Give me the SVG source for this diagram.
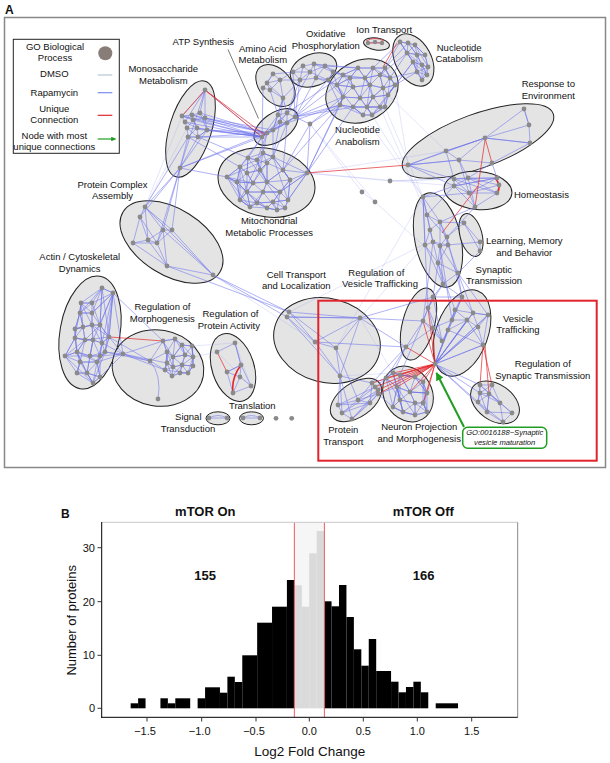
<svg xmlns="http://www.w3.org/2000/svg" width="610" height="763" viewBox="0 0 610 763">
<style>
text{font-family:"Liberation Sans",Arial,sans-serif;fill:#111}
.lb{font-size:9.5px;text-anchor:middle}
.hl{fill:#e4e4e4;stroke:#222;stroke-width:1}
.e{stroke:#6a70ec;stroke-width:0.8;opacity:0.68;fill:none}
.d{stroke:#6a70ec;stroke-width:0.9;opacity:0.6;fill:none}
.f{stroke:#9aa0f0;stroke-width:0.6;opacity:0.45;fill:none}
.r{stroke:#e3262b;stroke-width:0.7;fill:none}
.n circle{fill:#8a8a8a}
.tk{font-size:11px;fill:#4d4d4d}
.bar{fill:#000}
.gbar{fill:#dadada}
</style>
<defs>
<marker id="ga" viewBox="0 0 10 10" refX="9" refY="5" markerWidth="4" markerHeight="4" orient="auto-start-reverse"><path d="M0,0 L10,5 L0,10 z" fill="#1f9e22"/></marker>
</defs>
<rect width="610" height="763" fill="#fff"/>
<text x="5" y="13.5" style="font-size:12px;font-weight:bold">A</text>
<rect x="4.5" y="17.5" width="601" height="450" fill="none" stroke="#888" stroke-width="1.5"/>

<!-- clusters -->
<g id="monosaccharide"><ellipse class="hl" cx="190.5" cy="129" rx="21" ry="50" transform="rotate(17 190.5 129)"/><text class="lb" x="163.3" y="72">Monosaccharide</text><text class="lb" x="163.3" y="83.5">Metabolism</text></g>
<g id="atp-synthesis"><ellipse class="hl" cx="276" cy="127" rx="25" ry="14" transform="rotate(-35 276 127)"/><text class="lb" x="203.3" y="45.3">ATP Synthesis</text><line x1="228" y1="49.5" x2="258.5" y2="118.5" stroke="#555" stroke-width="0.8"/></g>
<g id="amino-acid"><ellipse class="hl" cx="275.5" cy="85.5" rx="24" ry="16" transform="rotate(50 275.5 85.5)"/><text class="lb" x="262.8" y="51.7">Amino Acid</text><text class="lb" x="262.8" y="63.3">Metabolism</text></g>
<g id="oxidative-phosphorylation"><ellipse class="hl" cx="313.5" cy="70" rx="24" ry="16" transform="rotate(-20 313.5 70)"/><text class="lb" x="325.8" y="36.7">Oxidative</text><text class="lb" x="325.8" y="48.7">Phosphorylation</text></g>
<g id="ion-transport"><ellipse class="hl" cx="376.5" cy="44" rx="13" ry="6" transform="rotate(8 376.5 44)"/><text class="lb" x="384.2" y="33.3">Ion Transport</text></g>
<g id="nucleotide-catabolism"><ellipse class="hl" cx="413.3" cy="60" rx="18" ry="28" transform="rotate(-28 413.3 60)"/><text class="lb" x="459.2" y="50.7">Nucleotide</text><text class="lb" x="459.2" y="62.3">Catabolism</text></g>
<g id="nucleotide-anabolism"><ellipse class="hl" cx="362" cy="91" rx="38" ry="30" transform="rotate(-30 362 91)"/><text class="lb" x="357.5" y="132.7">Nucleotide</text><text class="lb" x="357.5" y="144.7">Anabolism</text></g>
<g id="mitochondrial"><ellipse class="hl" cx="266.5" cy="182.5" rx="49" ry="34" transform="rotate(12 266.5 182.5)"/><text class="lb" x="269.2" y="224">Mitochondrial</text><text class="lb" x="269.2" y="236">Metabolic Processes</text></g>
<g id="response-environment"><ellipse class="hl" cx="478" cy="141" rx="80" ry="27" transform="rotate(-20 478 141)"/><text class="lb" x="548.3" y="86.7">Response to</text><text class="lb" x="548.3" y="98.7">Environment</text></g>
<g id="homeostasis"><ellipse class="hl" cx="478" cy="190.5" rx="34" ry="19" transform="rotate(5 478 190.5)"/><text x="514" y="198" style="font-size:9.5px">Homeostasis</text></g>
<g id="synaptic-transmission"><ellipse class="hl" cx="438" cy="240" rx="23" ry="48" transform="rotate(-12 438 240)"/><text class="lb" x="493.8" y="272.7">Synaptic</text><text class="lb" x="494" y="284.3">Transmission</text></g>
<g id="learning-memory"><ellipse class="hl" cx="471" cy="235" rx="11" ry="22" transform="rotate(-15 471 235)"/><text class="lb" x="524.3" y="244">Learning, Memory</text><text class="lb" x="524.3" y="255.7">and Behavior</text></g>
<g id="cell-transport"><ellipse class="hl" cx="327" cy="340.5" rx="54" ry="42" transform="rotate(15 327 340.5)"/><text class="lb" x="296.3" y="277.7">Cell Transport</text><text class="lb" x="296.3" y="289.3">and Localization</text></g>
<g id="reg-vesicle-trafficking"><ellipse class="hl" cx="418.5" cy="324" rx="16" ry="37" transform="rotate(15 418.5 324)"/><text class="lb" x="376.3" y="275.7">Regulation of</text><text class="lb" x="380" y="287.3">Vesicle Trafficking</text></g>
<g id="vesicle-trafficking"><ellipse class="hl" cx="462" cy="333" rx="26" ry="45" transform="rotate(20 462 333)"/><text class="lb" x="518" y="321.7">Vesicle</text><text class="lb" x="518" y="333.3">Trafficking</text></g>
<g id="reg-synaptic-transmission"><ellipse class="hl" cx="495" cy="402.3" rx="27" ry="18" transform="rotate(35 495 402.3)"/><text class="lb" x="542.8" y="367.3">Regulation of</text><text class="lb" x="542.8" y="379">Synaptic Transmission</text></g>
<g id="neuron-projection"><ellipse class="hl" cx="408" cy="394" rx="24" ry="29" transform="rotate(-30 408 394)"/><text class="lb" x="419.2" y="430">Neuron Projection</text><text class="lb" x="419.2" y="441.7">and Morphogenesis</text></g>
<g id="protein-transport"><ellipse class="hl" cx="356" cy="400" rx="29" ry="17" transform="rotate(-35 356 400)"/><text class="lb" x="343.3" y="433.3">Protein</text><text class="lb" x="343.3" y="445">Transport</text></g>
<g id="protein-complex"><ellipse class="hl" cx="171.5" cy="242" rx="57" ry="33" transform="rotate(32 171.5 242)"/><text class="lb" x="112.5" y="187.7">Protein Complex</text><text class="lb" x="112.5" y="199.3">Assembly</text></g>
<g id="actin"><ellipse class="hl" cx="90" cy="332.5" rx="30" ry="57" transform="rotate(10 90 332.5)"/><text class="lb" x="79.7" y="260">Actin / Cytoskeletal</text><text class="lb" x="79.7" y="271.7">Dynamics</text></g>
<g id="reg-morphogenesis"><ellipse class="hl" cx="158" cy="368" rx="46" ry="38" transform="rotate(10 158 368)"/><text class="lb" x="162.5" y="310">Regulation of</text><text class="lb" x="162.3" y="321.7">Morphogenesis</text></g>
<g id="reg-protein-activity"><ellipse class="hl" cx="233" cy="367.5" rx="21" ry="35" transform="rotate(-18 233 367.5)"/><text class="lb" x="230.5" y="317.3">Regulation of</text><text class="lb" x="228.8" y="329.3">Protein Activity</text></g>
<g id="signal-transduction"><ellipse class="hl" cx="218" cy="418.3" rx="12" ry="6.5"/><text class="lb" x="188.3" y="420">Signal</text><text class="lb" x="188" y="432">Transduction</text></g>
<g id="translation"><ellipse class="hl" cx="251.5" cy="418.3" rx="12" ry="6.5"/><text class="lb" x="252.3" y="409">Translation</text></g>

<!-- connectors -->
<g id="connectors">
<path class="f" d="M310,124L362,192L375,202L423,245 M310,124L375,202 M307,173L390,181L454,179 M307,173L454,186 M390,181L468,178 M385,107L423,197 M380,107L427,215 M372,115L423,197 M360,318L425,245 M336,348L423,197 M289,312L423,245 M360,318L393,373 M340,376L393,373 M217,352L193,357 M235,343L192,346 M217,352L251,386 M235,343L251,386 M213,275L315,342 M182,116L145,207 M187,128L140,217 M388,95L446,151 M395,85L408,165 M307,173L446,151 M363,115L423,197"/>
<path class="e" d="M205,90 182,116 192,115 200,113 205,90 205,118 207,130 198,137 188,137 187,128 185,122 182,116 193,120 197,128 207,130 200,113 205,118 193,120 187,128 198,137 197,128 188,137 180,168 198,137 207,130 180,168 205,90 185,122 197,128 192,115"/>
<path class="e" d="M205,90L262,137 M182,116L262,137 M192,115L262,137 M200,113L267,133 M185,122L262,137 M193,120L262,137 M205,118L267,133 M187,128L262,137 M197,128L262,137 M207,130L262,137 M188,137L262,137 M198,137L267,133 M180,168L262,137 M180,168L267,133 M205,118L273,130 M207,130L267,133 M182,116L267,133 M192,115L267,133"/>
<path class="e" d="M262,137 278,115 287,113 295,117 287,123 280,122 273,130 267,133 262,137 280,122 287,113 287,123 278,115 273,130 295,117 267,133 287,123 262,137 287,113"/>
<path class="e" d="M273,74 267,83 280,80 273,74 263,88 270,90 283,98 280,80 270,90 267,83 283,98 M278,115L283,98 M287,113L283,98 M280,122L283,98 M278,115L270,90 M262,137L263,88 M273,130L283,98"/>
<path class="e" d="M293,72 303,66 314,64 325,66 333,72 328,80 316,78 300,80 293,72 310,72 314,64 316,78 325,66 310,72 300,80 303,66 310,72 328,80 333,72 314,64 M280,80L293,72 M273,74L293,72 M283,98L300,80 M280,80L300,80 M295,117L300,80 M287,113L300,80 M295,117L293,72 M295,117L316,78 M287,113L310,72 M295,117L328,80"/>
<path class="e" d="M368,43 375,42 382,43"/>
<path class="e" d="M400,42 408,43 415,45 425,55 417,55 407,53 400,42 413,62 422,65 428,67 425,55 415,45 417,55 422,65 427,75 422,80 417,72 413,62 407,53 408,43 417,55 417,72 428,67 422,80 422,65 407,53 415,45 428,67 427,75 413,62 422,80"/>
<path class="d" d="M400,42 407,53 413,62 417,72 422,80 M408,43 417,55 422,65 427,75 M415,45 425,55 428,67 M400,42 415,45 M407,53 425,55 M413,62 428,67 M417,72 427,75"/>
<path class="e" d="M358,68 373,68 385,68 390,78 380,75 365,78 350,78 343,75 358,68 365,78 370,85 353,87 337,85 343,75 353,87 360,98 343,97 337,85 343,97 340,105 353,107 360,98 373,97 370,85 383,88 395,85 390,78 383,88 388,95 373,97 367,107 353,107 363,115 372,115 380,107 385,107 388,95 395,85 385,68 380,75 383,88 373,97 380,107 367,107 360,98 353,87 350,78 358,68 370,85 373,68 380,75 370,85 367,107 372,115 385,107 383,88"/>
<path class="e" d="M343,75 365,78 373,97 363,115 340,105 343,97 350,78 337,85 353,107 367,107 380,107 388,95 390,78 373,68 365,78 360,98 372,115 395,85"/>
<path class="d" d="M343,75 358,68 373,68 385,68 390,78 380,75 365,78 350,78 337,85 353,87 370,85 383,88 395,85 388,95 373,97 360,98 343,97 340,105 353,107 367,107 380,107 385,107 372,115 363,115 353,107 M358,68 350,78 353,87 343,97 M373,68 365,78 370,85 360,98 353,107 363,115 M385,68 380,75 383,88 373,97 367,107 372,115 M390,78 395,85 388,95 385,107 M343,75 337,85 343,97 340,105"/>
<path class="e" d="M385,68L400,42 M390,78L407,53 M395,85L413,62 M390,78L417,72 M380,75L407,53 M385,68L408,43 M395,85L417,72 M388,95L413,62 M373,68L400,42 M333,72L343,75 M333,72L337,85 M325,66L343,75 M328,80L337,85 M328,80L343,97 M325,66L358,68 M314,64L358,68 M333,72L350,78 M328,80L340,105 M316,78L337,85 M295,117L337,85 M295,117L343,97 M287,123L340,105 M295,117L340,105 M287,113L343,75 M295,117L353,107"/>
<path class="e" d="M263,153 273,157 267,163 257,160 248,158 263,153 257,160 260,170 267,163 283,170 273,157 263,153 260,170 247,173 240,167 248,158 247,173 253,183 237,182 227,177 240,167 237,182 247,192 240,200 250,207 257,203 247,192 253,183 267,182 260,170 253,183 263,192 267,182 290,180 283,170 267,182 280,192 290,180 288,200 285,208 277,210 267,208 250,207 240,200 257,203 263,192 280,192 273,202 267,208 257,203 273,202 288,200 280,192 263,192 247,192 247,173 237,182 240,200 227,177 247,192 267,208 277,210 273,202 285,208"/>
<path class="e" d="M307,173 283,170 290,180 307,173 288,200 307,173 280,192 307,173 273,157 227,177 253,183 267,163 267,182 257,160 240,167 247,192 250,207 263,192 277,210 280,192 M227,177 250,207 M240,167 240,200 M263,153 240,200 M273,157 288,200 M248,158 285,208"/>
<path class="d" d="M248,158 257,160 263,153 273,157 267,163 260,170 247,173 240,167 227,177 237,182 253,183 267,182 283,170 290,180 280,192 263,192 247,192 240,200 250,207 257,203 273,202 288,200 285,208 277,210 267,208 257,203 M263,153 267,163 267,182 263,192 257,203 M248,158 247,173 253,183 247,192 250,207 M273,157 283,170 290,180 288,200 M257,160 260,170 267,182 280,192 273,202 267,208 M240,167 237,182 240,200 M227,177 237,182 247,192 257,203"/>
<path class="e" d="M262,137L263,153 M262,137L248,158 M267,133L263,153 M267,133L257,160 M273,130L273,157 M280,122L273,157 M287,123L273,157 M262,137L240,167 M287,123L283,170 M180,168L227,177 M188,137L240,167 M198,137L248,158 M307,173L343,97 M307,173L340,105 M307,173L353,107 M283,170L340,105 M310,124L340,105 M310,124L343,97 M310,124L295,117 M310,124L307,173 M310,124L283,170"/>
<path class="e" d="M524,109 529,125 530,143 485,138 529,125 524,109 485,138 446,151 408,165 459,160 446,151 485,138 530,143 492,163 459,160 408,165 485,138 459,160"/>
<path class="e" d="M454,179 468,178 497,178 499,185 497,193 469,193 454,186 454,179 469,193 497,178 454,186 468,178 497,193 475,207 469,193 499,185 468,178 475,207 454,186 497,178 454,179 497,193 M459,160L468,178 M459,160L469,193 M492,163L497,178 M446,151L454,179 M408,165L454,186 M408,165L454,179 M492,163L468,178"/>
<path class="e" d="M423,197 427,215 440,222 423,197 425,245 433,242 440,246 448,245 447,237 440,222 430,230 425,245 438,263 458,273 443,284 438,263 440,246 458,273 448,245 433,242 430,230 427,215 447,237 440,246 443,284 425,245 423,197 433,242 438,263 448,245 440,222 440,246 M475,207L440,222 M469,193L423,197 M454,186L423,197 M454,186L427,215 M475,207L447,237"/>
<path class="e" d="M464,223 480,242 480,251 464,223 M464,223L447,237 M480,242L448,245 M480,251L458,273 M464,223L440,222"/>
<path class="e" d="M433,297 423,321 433,328 442,341 433,297 428,308 423,321 406,347 433,328 428,308 442,341 423,321"/>
<path class="e" d="M462,297 455,310 467,320 478,327 488,315 473,313 462,297 452,320 448,330 467,320 473,313 455,310 452,320 467,320 483,345 478,327 473,313 488,315 483,345 448,330 435,364 455,310 435,364 467,320 435,364 478,327 435,364 483,345 435,364 473,313 435,364 488,315 435,364 462,297"/>
<path class="e" d="M438,263L433,297 M443,284L433,297 M443,284L462,297 M458,273L462,297 M438,263L455,310 M443,284L428,308 M425,245L428,308 M433,242L423,321 M458,273L488,315 M447,237L462,297 M440,246L452,320 M458,273L473,313 M433,297L462,297 M442,341L448,330 M433,328L452,320"/>
<path class="e" d="M480,385 492,385 489,394 480,393 480,385 478,402 487,412 503,422 512,413 500,403 489,394 487,412 480,393 500,403 503,422 478,402 480,393 492,385 500,403 480,385 512,413 487,412 489,394 478,402 M435,364L480,385 M435,364L478,402 M435,364L480,393 M435,364L487,412"/>
<path class="e" d="M393,373 400,375 415,377 423,382 427,393 410,392 397,387 386,378 393,373 397,387 400,400 393,407 403,412 415,415 427,412 423,403 415,403 400,400 410,392 415,377 400,375 397,387 393,407 386,378 400,400 403,412 415,403 410,392 427,393 423,403 427,412 415,403 415,415 403,412 393,407 400,400 400,375 410,392 423,382 423,403 415,415 397,387 403,412 393,373 415,377 427,393 427,412 423,382"/>
<path class="d" d="M386,378 393,373 400,375 415,377 423,382 427,393 410,392 397,387 400,400 415,403 423,403 427,412 415,415 403,412 393,407 M393,373 397,387 400,400 403,412 M400,375 410,392 415,403 415,415 M415,377 427,393 423,403 427,412 M386,378 397,387 393,407"/>
<path class="e" d="M372,383 375,387 378,390 378,394 370,403 358,400 338,405 342,413 352,419 370,403 372,383 358,400 342,413 378,390 352,419 378,394 358,400 375,387 338,405 370,403 342,413 M372,383L386,378 M378,390L386,378 M378,394L397,387 M375,387L393,373 M378,394L393,407"/>
<path class="e" d="M289,312 360,318 287,317 315,342 336,348 360,318 340,376 315,342 289,312 336,348 340,376 287,317 360,318 315,342 M340,376L338,405 M340,376L342,413 M340,376L372,383 M336,348L358,400 M340,376L352,419 M360,318L406,347 M360,318L423,321 M360,318L433,297 M315,342L406,347 M213,275L289,312 M213,275L287,317 M167,266L289,312 M406,347L393,373 M406,347L386,378 M406,347L372,383 M423,321L400,375"/>
<path class="e" d="M145,207 140,217 133,243 148,240 157,243 163,230 172,230 145,207 163,230 148,240 140,217 157,243 167,266 213,275 172,230 157,243 133,243 167,266 148,240 145,207 213,275 163,230 167,266 M180,168L145,207 M180,168L163,230 M180,168L172,230 M180,168L140,217 M188,137L145,207 M180,168L157,243"/>
<path class="e" d="M102,288 113,293 92,303 81,303 102,288 92,313 80,313 81,303 92,313 113,293 109,337 100,325 92,325 83,327 75,329 75,338 85,340 93,340 102,343 109,337 105,352 100,356 90,356 77,352 65,356 80,362 97,362 100,377 93,383 87,373 77,373 80,362 77,352 75,338 65,356 77,373 93,383 97,362 100,356 102,343 100,325 92,303 80,313 83,327 85,340 77,352 87,373 90,356 93,340 92,325 92,313 100,325 113,293"/>
<path class="e" d="M75,329 92,325 109,337 85,340 65,356 90,356 105,352 97,362 87,373 100,377 100,356 93,340 75,338 83,327 81,303 92,325 102,343 105,352 93,383 80,362 85,340 100,325 102,288 80,313 75,329 77,352 97,362 102,343 113,293 93,340 87,373 M65,356 93,383 M113,293 105,352 M102,288 109,337 M81,303 75,338"/>
<path class="d" d="M81,303 92,303 102,288 113,293 92,313 80,313 83,327 75,329 92,325 100,325 109,337 102,343 93,340 85,340 75,338 65,356 77,352 90,356 100,356 105,352 97,362 80,362 77,373 87,373 100,377 93,383 M81,303 80,313 75,329 75,338 77,352 80,362 77,373 M92,303 92,313 92,325 93,340 90,356 97,362 100,377 M102,288 100,325 102,343 100,356 M113,293 109,337 105,352 M83,327 85,340 77,352 87,373 93,383"/>
<path class="e" d="M163,341 175,339 182,345 192,346 193,357 185,355 173,357 167,352 163,341 173,357 182,345 185,355 192,346 193,366 182,365 173,367 167,363 167,352 173,367 165,370 172,376 180,373 188,373 193,366 193,357 182,365 180,373 173,367 173,357 167,363 172,376 182,365 185,355 175,339 167,352 165,370 188,373 193,357 182,345 173,357 182,365 188,373"/>
<path class="d" d="M163,341 175,339 182,345 192,346 193,357 185,355 173,357 167,352 167,363 173,367 182,365 193,366 188,373 180,373 172,376 165,370 167,363 M175,339 173,357 173,367 172,376 M182,345 185,355 182,365 180,373 M192,346 193,357 193,366 188,373 M163,341 167,352 167,363 165,370"/>
<path class="e" d="M123,354 150,361 167,352 M123,354 163,341 M123,354 167,363 M150,361 165,370 M150,361 163,341 M123,354 165,370 M150,361 Q162,375 158,399 M123,354L109,337 M123,354L105,352 M123,354L102,343 M123,354L100,356 M150,361L109,337 M123,354L100,377 M123,354L113,293 M150,361L105,352 M123,354L97,362 M163,341L113,293"/>
<path class="e" d="M217,352 235,343 241,365 227,372 233,393 251,386 240,377 227,372 241,365 251,386 M241,365 240,377 233,393 M235,343L241,365"/>
<path class="e" d="M209,418 Q218,413 227,418 M209,418L227,418 M243,418 Q251,413 260,418 M243,418L260,418"/>
<path class="r" d="M205,90L262,137 M205,90L265,135 M182,116L205,90 M366,41 Q375,36 384,41 M368,43L382,43 M383,67L397,43 M307,173L408,165 M485,140L475,207 M478,186L442,233 M485,138L492,163 M483,345L480,385 M483,345L492,385 M485,345L489,394 M435,364L393,373 M435,364L400,375 M435,364L415,377 M435,364L423,382 M435,364L427,393 M435,364L386,378 M435,364L410,392 M435,364L397,387 M435,364L423,403 M435,364L372,383 M435,364L375,387 M435,364L378,390 M435,364L378,394 M435,364L406,347 M435,364L423,321 M435,364L433,328 M435,364L428,308 M110,337L163,341 M217,352L227,372"/>
<path class="r" style="stroke-width:1.6" d="M495,178 Q502,186 497,194 M241,365 Q231,378 233,393"/>
</g>

<!-- node dots -->
<g class="n" id="dots">
<circle cx="205" cy="90" r="2.4"/><circle cx="182" cy="116" r="2.4"/><circle cx="192" cy="115" r="2.4"/><circle cx="200" cy="113" r="2.4"/><circle cx="185" cy="122" r="2.4"/><circle cx="193" cy="120" r="2.4"/><circle cx="205" cy="118" r="2.4"/><circle cx="187" cy="128" r="2.4"/><circle cx="197" cy="128" r="2.4"/><circle cx="207" cy="130" r="2.4"/><circle cx="188" cy="137" r="2.4"/><circle cx="198" cy="137" r="2.4"/><circle cx="180" cy="168" r="2.4"/>
<circle cx="262" cy="137" r="2.4"/><circle cx="278" cy="115" r="2.4"/><circle cx="287" cy="113" r="2.4"/><circle cx="295" cy="117" r="2.4"/><circle cx="280" cy="122" r="2.4"/><circle cx="287" cy="123" r="2.4"/><circle cx="273" cy="130" r="2.4"/><circle cx="267" cy="133" r="2.4"/>
<circle cx="273" cy="74" r="2.4"/><circle cx="267" cy="83" r="2.4"/><circle cx="280" cy="80" r="2.4"/><circle cx="263" cy="88" r="2.4"/><circle cx="283" cy="98" r="2.4"/><circle cx="270" cy="90" r="2.4"/>
<circle cx="293" cy="72" r="2.4"/><circle cx="303" cy="66" r="2.4"/><circle cx="314" cy="64" r="2.4"/><circle cx="325" cy="66" r="2.4"/><circle cx="333" cy="72" r="2.4"/><circle cx="300" cy="80" r="2.4"/><circle cx="316" cy="78" r="2.4"/><circle cx="328" cy="80" r="2.4"/><circle cx="310" cy="72" r="2.4"/>
<circle cx="368" cy="43" r="2.2"/><circle cx="375" cy="42" r="2.2"/><circle cx="382" cy="43" r="2.2"/>
<circle cx="400" cy="42" r="2.4"/><circle cx="408" cy="43" r="2.4"/><circle cx="415" cy="45" r="2.4"/><circle cx="407" cy="53" r="2.4"/><circle cx="417" cy="55" r="2.4"/><circle cx="425" cy="55" r="2.4"/><circle cx="413" cy="62" r="2.4"/><circle cx="422" cy="65" r="2.4"/><circle cx="428" cy="67" r="2.4"/><circle cx="417" cy="72" r="2.4"/><circle cx="427" cy="75" r="2.4"/><circle cx="422" cy="80" r="2.4"/>
<circle cx="358" cy="68" r="2.4"/><circle cx="373" cy="68" r="2.4"/><circle cx="385" cy="68" r="2.4"/><circle cx="343" cy="75" r="2.4"/><circle cx="350" cy="78" r="2.4"/><circle cx="365" cy="78" r="2.4"/><circle cx="380" cy="75" r="2.4"/><circle cx="390" cy="78" r="2.4"/><circle cx="337" cy="85" r="2.4"/><circle cx="353" cy="87" r="2.4"/><circle cx="370" cy="85" r="2.4"/><circle cx="383" cy="88" r="2.4"/><circle cx="395" cy="85" r="2.4"/><circle cx="343" cy="97" r="2.4"/><circle cx="360" cy="98" r="2.4"/><circle cx="373" cy="97" r="2.4"/><circle cx="388" cy="95" r="2.4"/><circle cx="340" cy="105" r="2.4"/><circle cx="353" cy="107" r="2.4"/><circle cx="367" cy="107" r="2.4"/><circle cx="380" cy="107" r="2.4"/><circle cx="363" cy="115" r="2.4"/><circle cx="372" cy="115" r="2.4"/><circle cx="385" cy="107" r="2.4"/>
<circle cx="263" cy="153" r="2.4"/><circle cx="273" cy="157" r="2.4"/><circle cx="248" cy="158" r="2.4"/><circle cx="257" cy="160" r="2.4"/><circle cx="267" cy="163" r="2.4"/><circle cx="240" cy="167" r="2.4"/><circle cx="260" cy="170" r="2.4"/><circle cx="283" cy="170" r="2.4"/><circle cx="227" cy="177" r="2.4"/><circle cx="247" cy="173" r="2.4"/><circle cx="307" cy="173" r="2.4"/><circle cx="237" cy="182" r="2.4"/><circle cx="253" cy="183" r="2.4"/><circle cx="267" cy="182" r="2.4"/><circle cx="290" cy="180" r="2.4"/><circle cx="247" cy="192" r="2.4"/><circle cx="263" cy="192" r="2.4"/><circle cx="280" cy="192" r="2.4"/><circle cx="240" cy="200" r="2.4"/><circle cx="257" cy="203" r="2.4"/><circle cx="273" cy="202" r="2.4"/><circle cx="288" cy="200" r="2.4"/><circle cx="250" cy="207" r="2.4"/><circle cx="267" cy="208" r="2.4"/><circle cx="277" cy="210" r="2.4"/><circle cx="285" cy="208" r="2.4"/>
<circle cx="310" cy="124" r="2.4"/><circle cx="362" cy="192" r="2.4"/><circle cx="375" cy="202" r="2.4"/><circle cx="390" cy="181" r="2.4"/>
<circle cx="524" cy="109" r="2.4"/><circle cx="529" cy="125" r="2.4"/><circle cx="530" cy="143" r="2.4"/><circle cx="485" cy="138" r="2.4"/><circle cx="446" cy="151" r="2.4"/><circle cx="459" cy="160" r="2.4"/><circle cx="408" cy="165" r="2.4"/><circle cx="492" cy="163" r="2.4"/>
<circle cx="454" cy="179" r="2.4"/><circle cx="468" cy="178" r="2.4"/><circle cx="454" cy="186" r="2.4"/><circle cx="497" cy="178" r="2.4"/><circle cx="499" cy="185" r="2.4"/><circle cx="497" cy="193" r="2.4"/><circle cx="469" cy="193" r="2.4"/><circle cx="475" cy="207" r="2.4"/>
<circle cx="423" cy="197" r="2.4"/><circle cx="427" cy="215" r="2.4"/><circle cx="440" cy="222" r="2.4"/><circle cx="425" cy="245" r="2.4"/><circle cx="433" cy="242" r="2.4"/><circle cx="440" cy="246" r="2.4"/><circle cx="448" cy="245" r="2.4"/><circle cx="447" cy="237" r="2.4"/><circle cx="438" cy="263" r="2.4"/><circle cx="458" cy="273" r="2.4"/><circle cx="443" cy="284" r="2.4"/><circle cx="430" cy="230" r="2.4"/>
<circle cx="464" cy="223" r="2.4"/><circle cx="480" cy="242" r="2.4"/><circle cx="480" cy="251" r="2.4"/>
<circle cx="433" cy="297" r="2.4"/><circle cx="423" cy="321" r="2.4"/><circle cx="433" cy="328" r="2.4"/><circle cx="442" cy="341" r="2.4"/><circle cx="406" cy="347" r="2.4"/><circle cx="428" cy="308" r="2.4"/>
<circle cx="462" cy="297" r="2.4"/><circle cx="455" cy="310" r="2.4"/><circle cx="467" cy="320" r="2.4"/><circle cx="478" cy="327" r="2.4"/><circle cx="488" cy="315" r="2.4"/><circle cx="483" cy="345" r="2.4"/><circle cx="448" cy="330" r="2.4"/><circle cx="452" cy="320" r="2.4"/><circle cx="473" cy="313" r="2.4"/><circle cx="435" cy="364" r="2.4"/>
<circle cx="480" cy="385" r="2.4"/><circle cx="492" cy="385" r="2.4"/><circle cx="480" cy="393" r="2.4"/><circle cx="489" cy="394" r="2.4"/><circle cx="478" cy="402" r="2.4"/><circle cx="500" cy="403" r="2.4"/><circle cx="512" cy="413" r="2.4"/><circle cx="503" cy="422" r="2.4"/><circle cx="487" cy="412" r="2.4"/>
<circle cx="393" cy="373" r="2.4"/><circle cx="400" cy="375" r="2.4"/><circle cx="386" cy="378" r="2.4"/><circle cx="415" cy="377" r="2.4"/><circle cx="423" cy="382" r="2.4"/><circle cx="397" cy="387" r="2.4"/><circle cx="410" cy="392" r="2.4"/><circle cx="427" cy="393" r="2.4"/><circle cx="400" cy="400" r="2.4"/><circle cx="415" cy="403" r="2.4"/><circle cx="423" cy="403" r="2.4"/><circle cx="393" cy="407" r="2.4"/><circle cx="403" cy="412" r="2.4"/><circle cx="415" cy="415" r="2.4"/><circle cx="427" cy="412" r="2.4"/>
<circle cx="372" cy="383" r="2.4"/><circle cx="375" cy="387" r="2.4"/><circle cx="378" cy="390" r="2.4"/><circle cx="378" cy="394" r="2.4"/><circle cx="338" cy="405" r="2.4"/><circle cx="342" cy="413" r="2.4"/><circle cx="352" cy="419" r="2.4"/><circle cx="370" cy="403" r="2.4"/><circle cx="358" cy="400" r="2.4"/>
<circle cx="289" cy="312" r="2.4"/><circle cx="287" cy="317" r="2.4"/><circle cx="315" cy="342" r="2.4"/><circle cx="360" cy="318" r="2.4"/><circle cx="336" cy="348" r="2.4"/><circle cx="340" cy="376" r="2.4"/>
<circle cx="145" cy="207" r="2.4"/><circle cx="140" cy="217" r="2.4"/><circle cx="163" cy="230" r="2.4"/><circle cx="172" cy="230" r="2.4"/><circle cx="133" cy="243" r="2.4"/><circle cx="148" cy="240" r="2.4"/><circle cx="157" cy="243" r="2.4"/><circle cx="167" cy="266" r="2.4"/><circle cx="213" cy="275" r="2.4"/>
<circle cx="102" cy="288" r="2.4"/><circle cx="113" cy="293" r="2.4"/><circle cx="81" cy="303" r="2.4"/><circle cx="92" cy="303" r="2.4"/><circle cx="80" cy="313" r="2.4"/><circle cx="92" cy="313" r="2.4"/><circle cx="75" cy="329" r="2.4"/><circle cx="83" cy="327" r="2.4"/><circle cx="92" cy="325" r="2.4"/><circle cx="100" cy="325" r="2.4"/><circle cx="109" cy="337" r="2.4"/><circle cx="75" cy="338" r="2.4"/><circle cx="85" cy="340" r="2.4"/><circle cx="93" cy="340" r="2.4"/><circle cx="102" cy="343" r="2.4"/><circle cx="65" cy="356" r="2.4"/><circle cx="77" cy="352" r="2.4"/><circle cx="90" cy="356" r="2.4"/><circle cx="100" cy="356" r="2.4"/><circle cx="105" cy="352" r="2.4"/><circle cx="80" cy="362" r="2.4"/><circle cx="97" cy="362" r="2.4"/><circle cx="77" cy="373" r="2.4"/><circle cx="87" cy="373" r="2.4"/><circle cx="100" cy="377" r="2.4"/><circle cx="93" cy="383" r="2.4"/>
<circle cx="123" cy="354" r="2.4"/><circle cx="150" cy="361" r="2.4"/><circle cx="158" cy="399" r="2.4"/><circle cx="163" cy="341" r="2.4"/><circle cx="175" cy="339" r="2.4"/><circle cx="182" cy="345" r="2.4"/><circle cx="192" cy="346" r="2.4"/><circle cx="167" cy="352" r="2.4"/><circle cx="173" cy="357" r="2.4"/><circle cx="185" cy="355" r="2.4"/><circle cx="193" cy="357" r="2.4"/><circle cx="167" cy="363" r="2.4"/><circle cx="173" cy="367" r="2.4"/><circle cx="182" cy="365" r="2.4"/><circle cx="193" cy="366" r="2.4"/><circle cx="165" cy="370" r="2.4"/><circle cx="172" cy="376" r="2.4"/><circle cx="180" cy="373" r="2.4"/><circle cx="188" cy="373" r="2.4"/>
<circle cx="217" cy="352" r="2.4"/><circle cx="235" cy="343" r="2.4"/><circle cx="227" cy="372" r="2.4"/><circle cx="241" cy="365" r="2.4"/><circle cx="240" cy="377" r="2.4"/><circle cx="251" cy="386" r="2.4"/><circle cx="233" cy="393" r="2.4"/>
<circle cx="209" cy="418" r="2.4"/><circle cx="227" cy="418" r="2.4"/><circle cx="243" cy="418" r="2.4"/><circle cx="260" cy="418" r="2.4"/><circle cx="276" cy="418.3" r="2.4"/><circle cx="291.7" cy="418.3" r="2.4"/>
</g>

<!-- highlight -->
<rect id="highlight-box" x="318.3" y="300.7" width="278.4" height="160" fill="none" stroke="#e3232b" stroke-width="2"/>
<g id="go-callout">
<line x1="464" y1="427" x2="436.5" y2="373" stroke="#1f9e22" stroke-width="2" marker-end="url(#ga)"/>
<rect x="462.7" y="427.3" width="84" height="21" rx="5" fill="#fff" stroke="#1f9e22" stroke-width="1.5"/>
<text x="504.7" y="435.2" style="font-size:7.6px;font-style:italic;text-anchor:middle">GO:0016188~Synaptic</text>
<text x="504.7" y="445" style="font-size:7.6px;font-style:italic;text-anchor:middle">vesicle maturation</text>
</g>

<!-- legend -->
<g id="legend">
<rect x="13.3" y="39.3" width="106" height="114" fill="#fff" stroke="#222" stroke-width="1"/>
<text class="lb" x="55" y="50">GO  Biological</text>
<text class="lb" x="55" y="61">Process</text>
<circle cx="105.3" cy="53.3" r="7" fill="#887d77"/>
<text class="lb" x="54.3" y="76.7">DMSO</text>
<line x1="97.7" y1="75" x2="112.3" y2="75" stroke="#b4c6d6" stroke-width="1.2"/>
<text class="lb" x="54.3" y="95.7">Rapamycin</text>
<line x1="97.7" y1="92.7" x2="112.3" y2="92.7" stroke="#7b8cf0" stroke-width="1.2"/>
<text class="lb" x="54.3" y="111.7">Unique</text>
<text class="lb" x="54.3" y="123.3">Connection</text>
<line x1="97.7" y1="115.3" x2="112.3" y2="115.3" stroke="#e3262b" stroke-width="1.2"/>
<text class="lb" x="54.3" y="138.7">Node with most</text>
<text class="lb" x="54.3" y="150">unique connections</text>
<line x1="97.7" y1="139" x2="115.5" y2="139" stroke="#1f9e22" stroke-width="1.2" marker-end="url(#ga)"/>
</g>

<!-- panel B histogram -->
<g id="histogram">
<text x="61" y="518" style="font-size:12px;font-weight:bold">B</text>
<text x="205.3" y="515.7" style="font-size:13px;font-weight:bold;text-anchor:middle">mTOR On</text>
<text x="423.3" y="515.7" style="font-size:13px;font-weight:bold;text-anchor:middle">mTOR Off</text>
<rect x="294.35" y="522.3" width="30.05" height="186" fill="#f6f6f6"/>
<g class="gbar">
<rect x="294.35" y="585.3" width="7.44" height="123"/>
<rect x="301.79" y="606.7" width="7.44" height="101.6"/>
<rect x="309.23" y="553.3" width="7.44" height="155"/>
<rect x="316.67" y="531" width="7.44" height="177.3"/>
</g>
<g class="bar">
<rect x="130.67" y="703.3" width="7.44" height="5"/>
<rect x="138.11" y="698.3" width="7.44" height="10"/>
<rect x="160.43" y="698.3" width="7.44" height="10"/>
<rect x="167.87" y="703.3" width="7.44" height="5"/>
<rect x="175.31" y="698.3" width="14.88" height="10"/>
<rect x="197.63" y="698.3" width="7.44" height="10"/>
<rect x="205.07" y="687.3" width="14.88" height="21"/>
<rect x="219.95" y="692.7" width="7.44" height="15.6"/>
<rect x="227.39" y="676.7" width="7.44" height="31.6"/>
<rect x="234.83" y="682" width="7.44" height="26.3"/>
<rect x="242.27" y="655.3" width="14.88" height="53"/>
<rect x="257.15" y="622.7" width="14.88" height="85.6"/>
<rect x="272.03" y="606.7" width="14.88" height="101.6"/>
<rect x="286.91" y="580" width="7.44" height="128.3"/>
<rect x="324.4" y="601.3" width="7.15" height="107"/>
<rect x="331.55" y="606.3" width="7.44" height="102"/>
<rect x="338.99" y="585" width="7.44" height="123.3"/>
<rect x="346.43" y="617" width="7.44" height="91.3"/>
<rect x="353.87" y="649.3" width="7.44" height="59"/>
<rect x="361.31" y="665.7" width="7.44" height="42.6"/>
<rect x="368.75" y="639" width="7.44" height="69.3"/>
<rect x="376.19" y="671" width="14.88" height="37.3"/>
<rect x="391.07" y="681.7" width="7.44" height="26.6"/>
<rect x="398.51" y="692.3" width="7.44" height="16"/>
<rect x="405.95" y="687" width="7.44" height="21.3"/>
<rect x="413.39" y="681.7" width="7.44" height="26.6"/>
<rect x="420.83" y="692.3" width="7.44" height="16"/>
<rect x="435.71" y="703.3" width="22.32" height="5"/>
</g>
<line x1="294.35" y1="522.3" x2="294.35" y2="717.3" stroke="#ee5a66" stroke-width="1"/>
<line x1="324.4" y1="522.3" x2="324.4" y2="717.3" stroke="#ee5a66" stroke-width="1"/>
<line x1="101.7" y1="522.3" x2="517.7" y2="522.3" stroke="#c8c8c8" stroke-width="1"/>
<line x1="517.7" y1="522.3" x2="517.7" y2="717.3" stroke="#888" stroke-width="1"/>
<line x1="101.7" y1="522" x2="101.7" y2="717.8" stroke="#000" stroke-width="1"/>
<line x1="101.2" y1="717.3" x2="517.7" y2="717.3" stroke="#000" stroke-width="1"/>
<path d="M97.5,708.3H101.7 M97.5,655.3H101.7 M97.5,601.7H101.7 M97.5,547.7H101.7 M147,717.3V721.5 M201.7,717.3V721.5 M256,717.3V721.5 M309.3,717.3V721.5 M363.3,717.3V721.5 M417.3,717.3V721.5 M471.7,717.3V721.5" stroke="#333" stroke-width="1"/>
<g class="tk" style="text-anchor:end">
<text x="95" y="712.2">0</text><text x="95" y="659.2">10</text><text x="95" y="605.6">20</text><text x="95" y="551.6">30</text>
</g>
<g class="tk" style="text-anchor:middle">
<text x="145" y="735">−1.5</text><text x="199.7" y="735">−1.0</text><text x="254" y="735">−0.5</text><text x="309.3" y="735">0.0</text><text x="363.3" y="735">0.5</text><text x="417.3" y="735">1.0</text><text x="471.7" y="735">1.5</text>
</g>
<text x="309.7" y="756" style="font-size:13.5px;text-anchor:middle">Log2 Fold Change</text>
<text x="76" y="620.3" transform="rotate(-90 76 620.3)" style="font-size:13px;text-anchor:middle">Number of proteins</text>
<text x="205.2" y="580" style="font-size:13px;font-weight:bold;text-anchor:middle">155</text>
<text x="423.7" y="580" style="font-size:13px;font-weight:bold;text-anchor:middle">166</text>
</g>
</svg>
